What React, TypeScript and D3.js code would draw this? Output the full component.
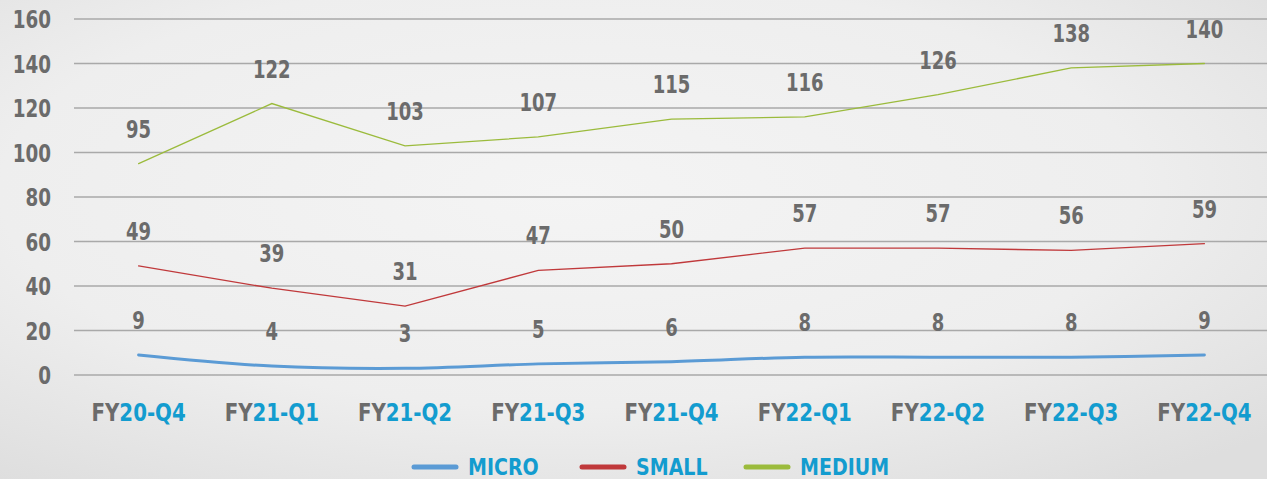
import React from "react";
import * as d3 from "d3";

// quarters (prefix "FY" drawn grey, rest blue)
const quarters = ["20-Q4", "21-Q1", "21-Q2", "21-Q3", "21-Q4", "22-Q1", "22-Q2", "22-Q3", "22-Q4"];
const micro = [9, 4, 3, 5, 6, 8, 8, 8, 9];
const small = [49, 39, 31, 47, 50, 57, 57, 56, 59];
const medium = [95, 122, 103, 107, 115, 116, 126, 138, 140];
const yTicks = [0, 20, 40, 60, 80, 100, 120, 140, 160];

const series = [
  { name: "MICRO", values: micro, color: "#5b9bd5", width: 3, smooth: true },
  { name: "SMALL", values: small, color: "#c0393b", width: 1.3, smooth: false },
  { name: "MEDIUM", values: medium, color: "#9bbb3c", width: 1.3, smooth: false },
];

const W = 1267;
const H = 479;
const FONT = "'DejaVu Sans Condensed', 'DejaVu Sans', sans-serif";
const GREY = "#6b6b6b";
const BLUE = "#139ccf";

// narrow bold text, squeezed horizontally to mimic the condensed face
function Narrow({ x, y, sx = 0.8, anchor = "middle", size = 25, fill, children }: any) {
  return (
    <text
      transform={`translate(${x},${y}) scale(${sx},1)`}
      textAnchor={anchor}
      fontSize={size}
      fontWeight="bold"
      fill={fill}
    >
      {children}
    </text>
  );
}

export default function App() {
  const x = d3.scaleBand().domain(quarters).range([72, 1271]);
  const y = d3.scaleLinear().domain([0, 160]).range([375, 19]);
  const cx = (q: string) => (x(q) as number) + x.bandwidth() / 2;

  const legendPos = [412, 580, 744];

  return (
    <svg width={W} height={H} style={{ position: "absolute", left: 0, top: 0 }} fontFamily={FONT}>
      <defs>
        <radialGradient id="bg" cx="0.45" cy="0.4" r="0.75">
          <stop offset="0" stopColor="#f4f4f4" />
          <stop offset="0.6" stopColor="#eeeeee" />
          <stop offset="1" stopColor="#dedede" />
        </radialGradient>
      </defs>
      <rect width={W} height={H} fill="url(#bg)" />

      {/* grid + y labels */}
      {yTicks.map((t) => (
        <g key={t}>
          <line x1={74} x2={W} y1={y(t)} y2={y(t)} stroke="#a9a9a9" strokeWidth={1.5} />
          <Narrow x={51} y={y(t) + 9} sx={0.85} anchor="end" size={24} fill={GREY}>
            {t}
          </Narrow>
        </g>
      ))}

      {/* lines */}
      {series.map((s) => {
        const line = d3
          .line<number>()
          .x((_, i) => cx(quarters[i]))
          .y((d) => y(d))
          .curve(s.smooth ? d3.curveCatmullRom : d3.curveLinear);
        return (
          <path key={s.name} d={line(s.values) || ""} fill="none" stroke={s.color} strokeWidth={s.width} strokeLinecap="round" />
        );
      })}

      {/* data labels */}
      {series.map((s) =>
        s.values.map((v, i) => (
          <Narrow key={s.name + i} x={cx(quarters[i])} y={y(v) - 26} fill={GREY}>
            {v}
          </Narrow>
        ))
      )}

      {/* x labels */}
      {quarters.map((q) => (
        <Narrow key={q} x={cx(q)} y={421} sx={0.88} size={25}>
          <tspan fill={GREY}>FY</tspan>
          <tspan fill={BLUE}>{q}</tspan>
        </Narrow>
      ))}

      {/* legend */}
      {series.map((s, i) => (
        <g key={s.name} transform={`translate(${legendPos[i]},467)`}>
          <line x1={2} x2={44} stroke={s.color} strokeWidth={5} strokeLinecap="round" />
          <Narrow x={56} y={8} sx={0.92} anchor="start" size={23} fill={BLUE}>
            {s.name}
          </Narrow>
        </g>
      ))}
    </svg>
  );
}
